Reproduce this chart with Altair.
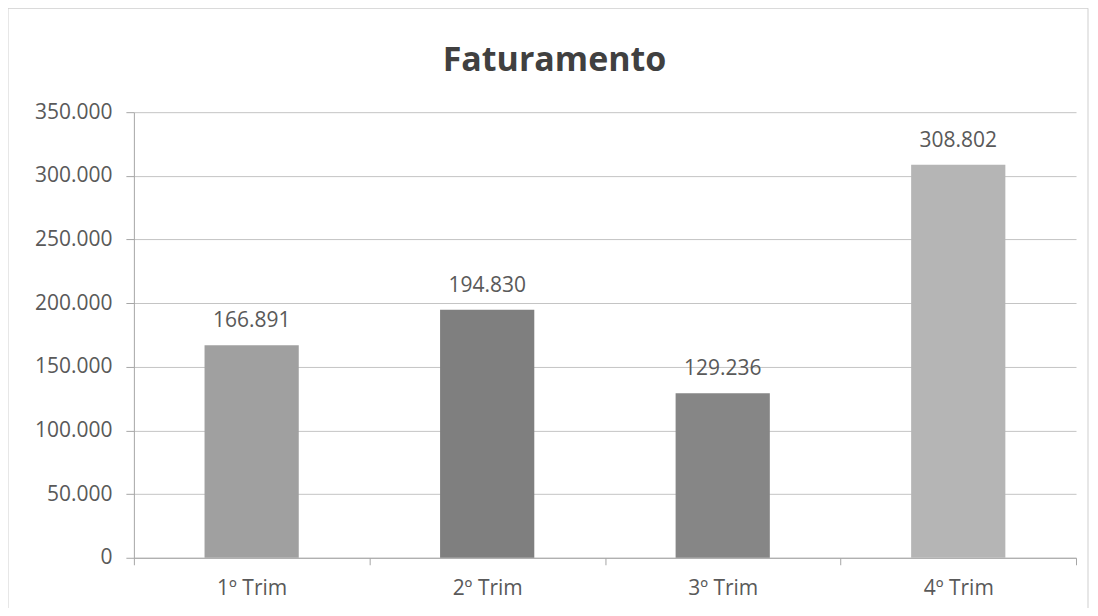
import altair as alt
import pandas as pd

categories = ["1º Trim", "2º Trim", "3º Trim", "4º Trim"]
values = [166891, 194830, 129236, 308802]
bar_colors = ["#a0a0a0", "#7f7f7f", "#868686", "#b5b5b5"]
y_ticks = [0, 50000, 100000, 150000, 200000, 250000, 300000, 350000]
title_text = ["Faturamento"]

df = pd.DataFrame({"trim": categories, "valor": values, "cor": bar_colors})

FONT = "Open Sans"
TXT = "#595959"
FS = 21

x_enc = alt.X(
    "trim:N",
    sort=categories,
    title=None,
    scale=alt.Scale(paddingInner=0, paddingOuter=0),
    axis=alt.Axis(
        labelAngle=0,
        tickBand="extent",
        tickSize=7,
        labelPadding=13,
        labelFontSize=FS,
        labelFont=FONT,
        labelColor=TXT,
        domainColor="#a6a6a6",
        tickColor="#a6a6a6",
        grid=False,
    ),
)
y_enc = alt.Y(
    "valor:Q",
    title=None,
    scale=alt.Scale(domain=[0, 350000], nice=False),
    axis=alt.Axis(
        values=y_ticks,
        format=",d",
        tickSize=8,
        labelPadding=14,
        labelFontSize=FS,
        labelFont=FONT,
        labelColor=TXT,
        domainColor="#a6a6a6",
        tickColor="#a6a6a6",
        gridColor="#c4c4c4",
        domain=True,
    ),
)

bars = alt.Chart(df).mark_bar(width=alt.RelativeBandSize(0.4)).encode(
    x=x_enc,
    y=y_enc,
    color=alt.Color("cor:N", scale=None),
)

labels = alt.Chart(df).mark_text(
    dy=-18, baseline="alphabetic", fontSize=FS, font=FONT, color=TXT
).encode(
    x=alt.X("trim:N", sort=categories),
    y=alt.Y("valor:Q"),
    text=alt.Text("valor:Q", format=",d"),
)

border = alt.Chart(pd.DataFrame({"a": [0]})).mark_rect(
    fill=None, stroke="#cfcfcf", strokeWidth=1
).encode(
    x=alt.value(-126), x2=alt.value(955), y=alt.value(-104), y2=alt.value(497)
)

title = alt.Chart(pd.DataFrame({"t": title_text})).mark_text(
    fontSize=34, fontWeight="bold", font=FONT, color="#404040",
    align="center", baseline="middle"
).encode(
    text="t:N", x=alt.value(421), y=alt.value(-51)
)

chart = alt.layer(border, bars, labels, title).properties(
    width=943,
    height=446,
    padding={"left": 126, "top": 104, "right": 14, "bottom": 50},
    autosize=alt.AutoSizeParams(type="none"),
).configure(
    locale={
        "number": {
            "decimal": ",",
            "thousands": ".",
            "grouping": [3],
            "currency": ["R$", ""],
        }
    }
).configure_view(stroke=None)

chart.save("out.html", embed_options={"renderer": "svg", "actions": False})
